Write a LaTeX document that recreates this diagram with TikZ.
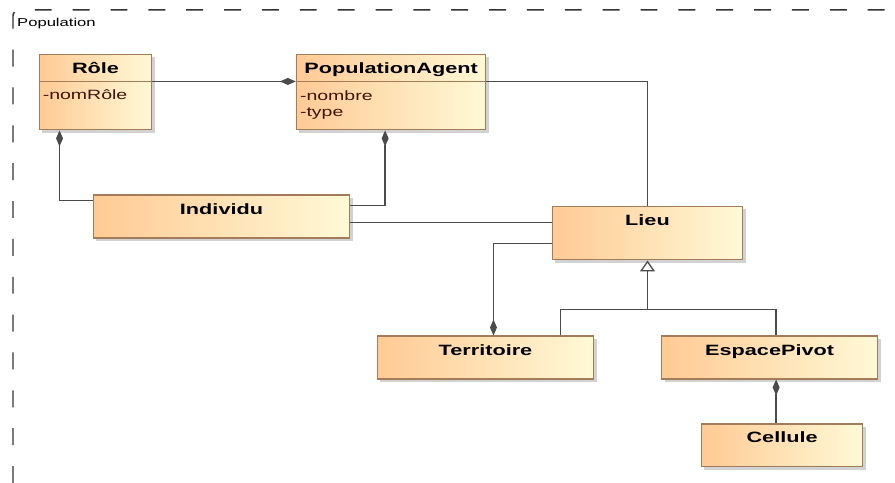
\documentclass[tikz,border=0pt]{standalone}
\usepackage{fontspec}
\newfontfamily\umlfont[FakeStretch=1.45]{Liberation Sans}
\usepackage{tikz}
\usetikzlibrary{arrows.meta,positioning,shadows}
\definecolor{clsleft}{RGB}{255,202,148}
\definecolor{clsright}{RGB}{255,249,214}
\definecolor{clsborder}{RGB}{164,124,90}
\definecolor{attrtext}{RGB}{60,20,10}
\definecolor{wire}{RGB}{75,75,75}
\tikzset{
  cls/.style={draw=clsborder, line width=1.2pt, left color=clsleft, right color=clsright,
    inner xsep=0pt, inner ysep=0pt, text height=19pt,
    font=\umlfont\bfseries\fontsize{15}{18}\selectfont,
    drop shadow={shadow xshift=3pt, shadow yshift=-3pt, fill=black!35, opacity=.5}},
  attr/.style={align=left, inner sep=0pt, anchor=base west, text=attrtext,
    font=\umlfont\fontsize{13.5}{16}\selectfont},
  divider/.style={draw=clsborder, line width=1.2pt},
  wire/.style={draw=wire, line width=1.3pt},
  compend/.style={wire, -{Diamond[length=16pt,width=7pt]}},
  compstart/.style={wire, {Diamond[length=16pt,width=7pt]}-},
  gener/.style={wire, -{Triangle[open,length=11pt,width=15pt,fill=white]}},
  frame/.style={draw=black!80, line width=1.5pt, dash pattern=on 17pt off 21pt, rounded corners=6pt},
  framelabel/.style={inner sep=0pt, anchor=base west, font=\umlfont\fontsize{11.5}{14}\selectfont}
}

\begin{document}
\begin{tikzpicture}[x=1bp, y=-1bp]
    \useasboundingbox (0,0) rectangle (895,483);

    % package frame
    \draw[frame] (13,483) -- (13,10) -- (905,10);
    \node[framelabel] (poplabel) at (17,27) {Population};

    % classes
    \node[cls, minimum width=113pt, text depth=57pt] (role) at (95.5,92) {Rôle};
    \node[cls, minimum width=190pt, text depth=57pt, right=144pt of role] (pa) {PopulationAgent};
    \node[cls, minimum width=257pt, text depth=24pt] (ind) at (221.5,216.5) {Individu};
    \node[cls, minimum width=191pt, text depth=35pt] (lieu) at (647.5,233) {Lieu};
    \node[cls, minimum width=217pt, text depth=24pt] (terr) at (485.5,357.5) {Territoire};
    \node[cls, minimum width=217pt, text depth=24pt, right=67pt of terr] (esp) {EspacePivot};
    \node[cls, minimum width=162pt, text depth=24pt, below=44pt of esp, xshift=12.5pt] (cell) {Cellule};

    % attribute compartments
    \draw[divider] ([yshift=-28pt]role.north west) -- ([yshift=-28pt]role.north east);
    \draw[divider] ([yshift=-28pt]pa.north west) -- ([yshift=-28pt]pa.north east);
    \node[attr] (rolea) at ([xshift=4pt,yshift=-46pt]role.north west) {-nomRôle};
    \node[attr] (paa) at ([xshift=4pt,yshift=-63pt]pa.north west) {-nombre\\-type};

    % associations
    \draw[compend] ([yshift=-28pt]role.north east) -- ([yshift=-28pt]pa.north west);
    \draw[wire] ([yshift=-28pt]pa.north east) -| (lieu.north);
    \draw[compstart] ([xshift=21pt]role.south west) |- ([yshift=-6pt]ind.north west);
    \draw[compstart] ([xshift=-6pt]pa.south) |- ([yshift=-11pt]ind.north east);
    \coordinate (li1) at ([yshift=-17pt]lieu.north west);
    \draw[wire] (li1) -- (li1 -| ind.east);
    \draw[compend] ([yshift=-38pt]lieu.north west) -| ([xshift=8pt]terr.north);
    \draw[compstart] ([xshift=6.5pt]esp.south) -- ([xshift=-6pt]cell.north);

    % generalisation
    \coordinate (gen) at ([yshift=-49pt]lieu.south);
    \draw[gener] (gen) -- (lieu.south);
    \draw[wire] ([xshift=-34pt]terr.north east) |- (gen) -| ([xshift=6.5pt]esp.north);
  \end{tikzpicture}
\end{document}
